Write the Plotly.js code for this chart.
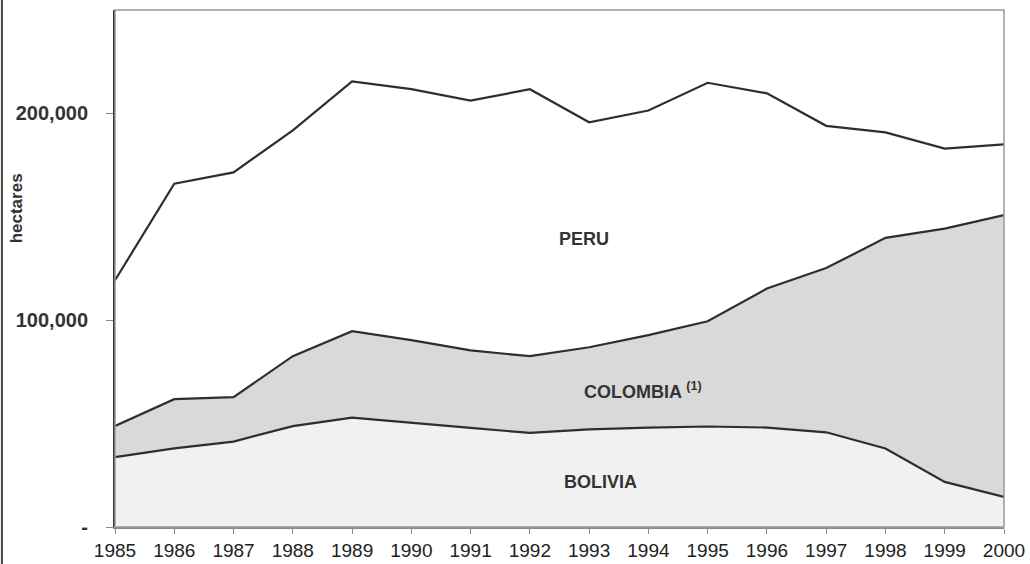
<!DOCTYPE html>
<html>
<head>
<meta charset="utf-8">
<script src="https://cdn.plot.ly/plotly-3.0.1.min.js"></script>
<style>html,body{margin:0;padding:0;background:#fff;}#chart{width:1030px;height:564px;}</style>
</head>
<body>
<div id="chart"></div>
<script>
const years = [1985,1986,1987,1988,1989,1990,1991,1992,1993,1994,1995,1996,1997,1998,1999,2000];
const bolivia  = [33800,38000,41300,48800,52900,50300,47900,45500,47200,48100,48600,48100,45800,38000,21800,14600];
const colombia = [15000,23800,21500,33800,41800,40100,37500,37100,39700,44700,50900,67200,79400,101800,122500,136200];
const peru     = [70500,104200,108700,109200,120800,121300,120800,129100,108800,108600,115300,94400,68800,51000,38700,34200];
const yTickVals = [0,100000,200000];
const yTickText = ['-','100,000','200,000'];

const lineStyle = {color:'#2e2e2e', width:2.2};
const traces = [
  {x:years, y:bolivia, name:'BOLIVIA', type:'scatter', mode:'lines', stackgroup:'one', line:lineStyle, fillcolor:'#f1f1f1'},
  {x:years, y:colombia, name:'COLOMBIA', type:'scatter', mode:'lines', stackgroup:'one', line:lineStyle, fillcolor:'#d9d9d9'},
  {x:years, y:peru, name:'PERU', type:'scatter', mode:'lines', stackgroup:'one', line:lineStyle, fillcolor:'#ffffff'}
];
const labelFont = {family:'Arial, "Liberation Sans", sans-serif', size:18, color:'#333', weight:'bold'};
const layout = {
  width:1030, height:564,
  margin:{l:115, r:26, t:10, b:37},
  paper_bgcolor:'#fff', plot_bgcolor:'#fff',
  showlegend:false,
  xaxis:{range:[1985,2000], tickvals:years, ticks:'outside', ticklen:5, tickcolor:'#888',
    showline:true, linecolor:'#8a8a8a', linewidth:2, showgrid:false, zeroline:false,
    tickfont:{family:'Arial, "Liberation Sans", sans-serif', size:19, color:'#222'}},
  yaxis:{range:[0,250000], tickvals:yTickVals, ticktext:yTickText, ticks:'outside', ticklen:7, tickcolor:'#888',
    showline:true, linecolor:'#333', linewidth:2, showgrid:false, zeroline:false, ticklabelstandoff:14,
    tickfont:{family:'Arial, "Liberation Sans", sans-serif', size:20, color:'#333', weight:'bold'}},
  shapes:[
    {type:'rect', xref:'paper', yref:'paper', x0:0, x1:1, y0:0, y1:1, line:{color:'#999', width:1.5}, layer:'above'},
    {type:'line', xref:'paper', yref:'paper', x0:-0.1272, x1:-0.1272, y0:-0.0716, y1:1.0193, line:{color:'#444', width:2}}
  ],
  annotations:[
    {x:1992.91, y:139100, xref:'x', yref:'y', text:'PERU', showarrow:false, font:labelFont},
    {x:1992.88, y:66200, xref:'x', yref:'y', xanchor:'left', text:'COLOMBIA <sup>(1)</sup>', showarrow:false, font:labelFont},
    {x:1993.2, y:21700, xref:'x', yref:'y', text:'BOLIVIA', showarrow:false, font:labelFont},
    {x:-0.111, y:0.617, xref:'paper', yref:'paper', xanchor:'center', yanchor:'middle', text:'hectares', textangle:-90, showarrow:false,
      font:{family:'Arial, "Liberation Sans", sans-serif', size:17, color:'#333', weight:'bold'}}
  ]
};
Plotly.newPlot('chart', traces, layout, {staticPlot:true, displayModeBar:false});
</script>
</body>
</html>
